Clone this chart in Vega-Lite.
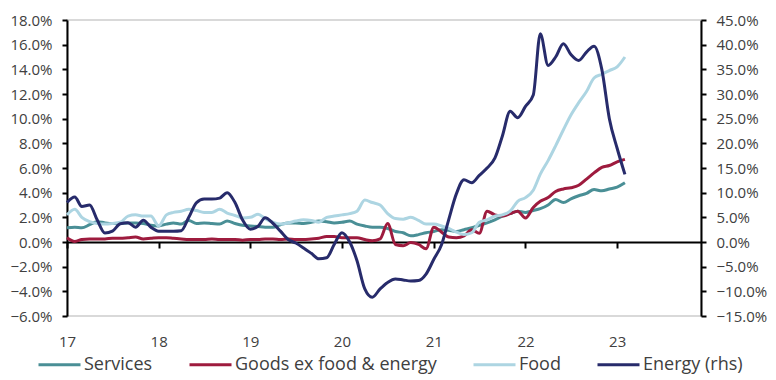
{
  "$schema": "https://vega.github.io/schema/vega-lite/v6.json",
  "width": 634,
  "height": 296,
  "autosize": "none",
  "padding": {"left": 67, "top": 20, "right": 75, "bottom": 64},
  "config": {
    "font": "Open Sans",
    "view": {"stroke": "#d9d9d9", "strokeWidth": 2},
    "axis": {"labelColor": "#404040", "labelFontSize": 15, "domainColor": "#000000", "domainWidth": 2, "tickColor": "#000000", "tickWidth": 2, "grid": false, "labelFont": "Open Sans"},
    "legend": {"labelColor": "#404040", "labelFontSize": 18, "labelFont": "Open Sans"}
  },
  "data": {
    "values": [
      {"date": "2017-01-01", "Services": 1.15, "Goods ex food & energy": 0.35, "Food": 2.2, "Energy (rhs)": 8.0},
      {"date": "2017-02-01", "Services": 1.2, "Goods ex food & energy": 0.05, "Food": 2.65, "Energy (rhs)": 9.1},
      {"date": "2017-03-01", "Services": 1.15, "Goods ex food & energy": 0.2, "Food": 2.0, "Energy (rhs)": 7.2},
      {"date": "2017-04-01", "Services": 1.4, "Goods ex food & energy": 0.25, "Food": 1.65, "Energy (rhs)": 7.5},
      {"date": "2017-05-01", "Services": 1.65, "Goods ex food & energy": 0.25, "Food": 1.5, "Energy (rhs)": 4.5},
      {"date": "2017-06-01", "Services": 1.55, "Goods ex food & energy": 0.25, "Food": 1.45, "Energy (rhs)": 1.8},
      {"date": "2017-07-01", "Services": 1.5, "Goods ex food & energy": 0.3, "Food": 1.5, "Energy (rhs)": 2.2},
      {"date": "2017-08-01", "Services": 1.5, "Goods ex food & energy": 0.3, "Food": 1.6, "Energy (rhs)": 3.7},
      {"date": "2017-09-01", "Services": 1.55, "Goods ex food & energy": 0.35, "Food": 2.1, "Energy (rhs)": 3.9},
      {"date": "2017-10-01", "Services": 1.55, "Goods ex food & energy": 0.4, "Food": 2.2, "Energy (rhs)": 3.0},
      {"date": "2017-11-01", "Services": 1.5, "Goods ex food & energy": 0.25, "Food": 2.1, "Energy (rhs)": 4.4},
      {"date": "2017-12-01", "Services": 1.35, "Goods ex food & energy": 0.3, "Food": 2.1, "Energy (rhs)": 3.0},
      {"date": "2018-01-01", "Services": 1.3, "Goods ex food & energy": 0.35, "Food": 1.3, "Energy (rhs)": 2.2},
      {"date": "2018-02-01", "Services": 1.45, "Goods ex food & energy": 0.35, "Food": 2.2, "Energy (rhs)": 2.2},
      {"date": "2018-03-01", "Services": 1.55, "Goods ex food & energy": 0.3, "Food": 2.4, "Energy (rhs)": 2.2},
      {"date": "2018-04-01", "Services": 1.45, "Goods ex food & energy": 0.25, "Food": 2.5, "Energy (rhs)": 2.3},
      {"date": "2018-05-01", "Services": 1.75, "Goods ex food & energy": 0.2, "Food": 2.65, "Energy (rhs)": 5.0},
      {"date": "2018-06-01", "Services": 1.5, "Goods ex food & energy": 0.2, "Food": 2.55, "Energy (rhs)": 8.0},
      {"date": "2018-07-01", "Services": 1.55, "Goods ex food & energy": 0.2, "Food": 2.4, "Energy (rhs)": 8.7},
      {"date": "2018-08-01", "Services": 1.5, "Goods ex food & energy": 0.25, "Food": 2.4, "Energy (rhs)": 8.7},
      {"date": "2018-09-01", "Services": 1.45, "Goods ex food & energy": 0.2, "Food": 2.65, "Energy (rhs)": 8.9},
      {"date": "2018-10-01", "Services": 1.7, "Goods ex food & energy": 0.2, "Food": 2.35, "Energy (rhs)": 10.0},
      {"date": "2018-11-01", "Services": 1.5, "Goods ex food & energy": 0.2, "Food": 2.15, "Energy (rhs)": 8.0},
      {"date": "2018-12-01", "Services": 1.35, "Goods ex food & energy": 0.15, "Food": 1.95, "Energy (rhs)": 4.5},
      {"date": "2019-01-01", "Services": 1.3, "Goods ex food & energy": 0.2, "Food": 2.0, "Energy (rhs)": 2.6},
      {"date": "2019-02-01", "Services": 1.25, "Goods ex food & energy": 0.2, "Food": 2.25, "Energy (rhs)": 3.2},
      {"date": "2019-03-01", "Services": 1.2, "Goods ex food & energy": 0.25, "Food": 1.9, "Energy (rhs)": 4.9},
      {"date": "2019-04-01", "Services": 1.2, "Goods ex food & energy": 0.25, "Food": 1.6, "Energy (rhs)": 3.8},
      {"date": "2019-05-01", "Services": 1.4, "Goods ex food & energy": 0.2, "Food": 1.45, "Energy (rhs)": 2.2},
      {"date": "2019-06-01", "Services": 1.55, "Goods ex food & energy": 0.25, "Food": 1.55, "Energy (rhs)": 0.5},
      {"date": "2019-07-01", "Services": 1.55, "Goods ex food & energy": 0.2, "Food": 1.7, "Energy (rhs)": -0.2},
      {"date": "2019-08-01", "Services": 1.5, "Goods ex food & energy": 0.2, "Food": 1.8, "Energy (rhs)": -1.2},
      {"date": "2019-09-01", "Services": 1.6, "Goods ex food & energy": 0.25, "Food": 1.75, "Energy (rhs)": -2.3},
      {"date": "2019-10-01", "Services": 1.7, "Goods ex food & energy": 0.3, "Food": 1.6, "Energy (rhs)": -3.4},
      {"date": "2019-11-01", "Services": 1.65, "Goods ex food & energy": 0.45, "Food": 2.0, "Energy (rhs)": -3.2},
      {"date": "2019-12-01", "Services": 1.55, "Goods ex food & energy": 0.45, "Food": 2.1, "Energy (rhs)": -0.5},
      {"date": "2020-01-01", "Services": 1.6, "Goods ex food & energy": 0.35, "Food": 2.2, "Energy (rhs)": 1.9},
      {"date": "2020-02-01", "Services": 1.7, "Goods ex food & energy": 0.35, "Food": 2.3, "Energy (rhs)": 0.0},
      {"date": "2020-03-01", "Services": 1.45, "Goods ex food & energy": 0.35, "Food": 2.5, "Energy (rhs)": -3.8},
      {"date": "2020-04-01", "Services": 1.3, "Goods ex food & energy": 0.2, "Food": 3.4, "Energy (rhs)": -9.5},
      {"date": "2020-05-01", "Services": 1.2, "Goods ex food & energy": 0.1, "Food": 3.2, "Energy (rhs)": -11.2},
      {"date": "2020-06-01", "Services": 1.2, "Goods ex food & energy": 0.25, "Food": 3.0, "Energy (rhs)": -9.5},
      {"date": "2020-07-01", "Services": 1.1, "Goods ex food & energy": 1.5, "Food": 2.3, "Energy (rhs)": -8.2},
      {"date": "2020-08-01", "Services": 0.85, "Goods ex food & energy": -0.2, "Food": 1.9, "Energy (rhs)": -7.5},
      {"date": "2020-09-01", "Services": 0.75, "Goods ex food & energy": -0.3, "Food": 1.85, "Energy (rhs)": -7.7},
      {"date": "2020-10-01", "Services": 0.5, "Goods ex food & energy": -0.05, "Food": 2.0, "Energy (rhs)": -7.9},
      {"date": "2020-11-01", "Services": 0.6, "Goods ex food & energy": -0.2, "Food": 1.75, "Energy (rhs)": -7.8},
      {"date": "2020-12-01", "Services": 0.75, "Goods ex food & energy": -0.55, "Food": 1.45, "Energy (rhs)": -6.5},
      {"date": "2021-01-01", "Services": 0.85, "Goods ex food & energy": 1.2, "Food": 1.45, "Energy (rhs)": -3.5},
      {"date": "2021-02-01", "Services": 1.0, "Goods ex food & energy": 0.8, "Food": 1.3, "Energy (rhs)": -0.5},
      {"date": "2021-03-01", "Services": 0.95, "Goods ex food & energy": 0.4, "Food": 1.1, "Energy (rhs)": 4.5},
      {"date": "2021-04-01", "Services": 0.85, "Goods ex food & energy": 0.35, "Food": 0.8, "Energy (rhs)": 9.8},
      {"date": "2021-05-01", "Services": 1.0, "Goods ex food & energy": 0.5, "Food": 0.6, "Energy (rhs)": 12.6},
      {"date": "2021-06-01", "Services": 1.15, "Goods ex food & energy": 1.0, "Food": 0.75, "Energy (rhs)": 12.0},
      {"date": "2021-07-01", "Services": 1.35, "Goods ex food & energy": 0.7, "Food": 1.6, "Energy (rhs)": 13.5},
      {"date": "2021-08-01", "Services": 1.55, "Goods ex food & energy": 2.5, "Food": 1.8, "Energy (rhs)": 15.0},
      {"date": "2021-09-01", "Services": 1.8, "Goods ex food & energy": 2.2, "Food": 2.1, "Energy (rhs)": 17.0},
      {"date": "2021-10-01", "Services": 2.1, "Goods ex food & energy": 2.1, "Food": 2.2, "Energy (rhs)": 21.5},
      {"date": "2021-11-01", "Services": 2.3, "Goods ex food & energy": 2.3, "Food": 2.5, "Energy (rhs)": 26.5},
      {"date": "2021-12-01", "Services": 2.5, "Goods ex food & energy": 2.5, "Food": 3.3, "Energy (rhs)": 25.2},
      {"date": "2022-01-01", "Services": 2.4, "Goods ex food & energy": 1.95, "Food": 3.6, "Energy (rhs)": 27.5},
      {"date": "2022-02-01", "Services": 2.55, "Goods ex food & energy": 2.8, "Food": 4.2, "Energy (rhs)": 29.8},
      {"date": "2022-03-01", "Services": 2.7, "Goods ex food & energy": 3.3, "Food": 5.5, "Energy (rhs)": 42.2},
      {"date": "2022-04-01", "Services": 3.0, "Goods ex food & energy": 3.6, "Food": 6.6, "Energy (rhs)": 35.8},
      {"date": "2022-05-01", "Services": 3.45, "Goods ex food & energy": 4.1, "Food": 7.8, "Energy (rhs)": 37.5},
      {"date": "2022-06-01", "Services": 3.2, "Goods ex food & energy": 4.3, "Food": 9.1, "Energy (rhs)": 40.2},
      {"date": "2022-07-01", "Services": 3.5, "Goods ex food & energy": 4.4, "Food": 10.3, "Energy (rhs)": 38.0},
      {"date": "2022-08-01", "Services": 3.75, "Goods ex food & energy": 4.6, "Food": 11.3, "Energy (rhs)": 36.8},
      {"date": "2022-09-01", "Services": 3.95, "Goods ex food & energy": 5.1, "Food": 12.2, "Energy (rhs)": 38.5},
      {"date": "2022-10-01", "Services": 4.25, "Goods ex food & energy": 5.6, "Food": 13.3, "Energy (rhs)": 39.7},
      {"date": "2022-11-01", "Services": 4.15, "Goods ex food & energy": 6.05, "Food": 13.6, "Energy (rhs)": 35.0},
      {"date": "2022-12-01", "Services": 4.3, "Goods ex food & energy": 6.2, "Food": 13.9, "Energy (rhs)": 25.0},
      {"date": "2023-01-01", "Services": 4.45, "Goods ex food & energy": 6.5, "Food": 14.2, "Energy (rhs)": 19.0},
      {"date": "2023-02-01", "Services": 4.8, "Goods ex food & energy": 6.7, "Food": 15.0, "Energy (rhs)": 13.7}
    ]
  },
  "encoding": {
    "x": {
      "field": "date",
      "type": "temporal",
      "scale": {"type": "utc", "domain": [{"year": 2017, "month": 1, "date": 1, "utc": true}, {"year": 2023, "month": 12, "date": 1, "utc": true}]},
      "axis": {"title": null, "orient": "bottom", "offset": -74, "tickCount": "year", "labelExpr": "utcFormat(datum.value, '%y')", "tickSize": 6, "labelPadding": 86, "labelFlush": false}
    },
    "color": {
      "field": "key",
      "type": "nominal",
      "scale": {"domain": ["Services", "Goods ex food & energy", "Food", "Energy (rhs)"], "range": ["#4a8f96", "#9e1b3e", "#add5e2", "#272b6b"]},
      "legend": {"title": null, "orient": "none", "direction": "horizontal", "legendX": -30, "legendY": 322, "symbolType": "stroke", "symbolSize": 1764, "symbolStrokeWidth": 3, "labelOffset": 2, "columnPadding": 30, "padding": 0, "labelLimit": 400}
    }
  },
  "layer": [
    {
      "transform": [{"fold": ["Services", "Goods ex food & energy", "Food"]}],
      "mark": {"type": "line", "interpolate": "monotone", "strokeWidth": 3},
      "encoding": {
        "y": {
          "field": "value",
          "type": "quantitative",
          "scale": {"domain": [-6, 18], "nice": false},
          "axis": {"title": null, "orient": "left", "values": [-6, -4, -2, 0, 2, 4, 6, 8, 10, 12, 14, 16, 18], "labelExpr": "format(datum.value, '.1f') + '%'", "tickSize": 5, "labelPadding": 10}
        }
      }
    },
    {
      "transform": [{"fold": ["Energy (rhs)"]}],
      "mark": {"type": "line", "interpolate": "monotone", "strokeWidth": 3},
      "encoding": {
        "y": {
          "field": "value",
          "type": "quantitative",
          "scale": {"domain": [-15, 45], "nice": false},
          "axis": {"title": null, "orient": "right", "values": [-15, -10, -5, 0, 5, 10, 15, 20, 25, 30, 35, 40, 45], "labelExpr": "format(datum.value, '.1f') + '%'", "tickSize": 5, "labelPadding": 10}
        }
      }
    }
  ],
  "resolve": {"scale": {"y": "independent"}}
}
